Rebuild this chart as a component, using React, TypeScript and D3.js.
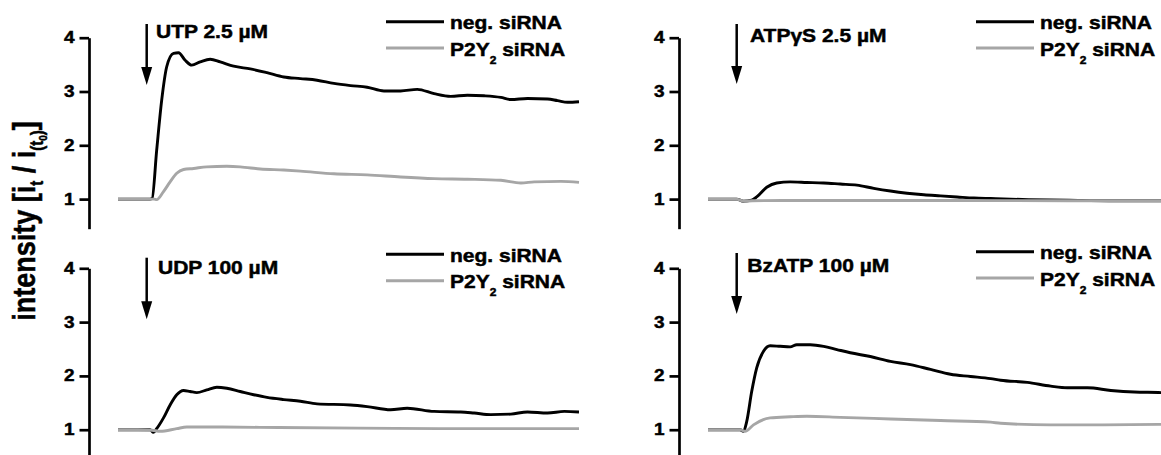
import React, { useEffect, useRef } from 'react';
import * as d3 from 'd3';

const W = 1161;
const H = 455;
const FONT = "'Liberation Sans', Arial, Helvetica, sans-serif";

// time (arbitrary units, 0..230) vs intensity ratio
const utpNeg: [number, number][] = [[0,1.0],[8,1.0],[16,1.0],[17,1.01],[19.3,1.91],[21.8,2.84],[24.3,3.46],[27.7,3.71],[30.2,3.72],[33.5,3.58],[36.8,3.49],[41,3.55],[46,3.6],[51,3.55],[57.7,3.47],[66,3.42],[74.3,3.35],[82.7,3.27],[91,3.24],[99.3,3.21],[107.7,3.15],[116,3.11],[124.3,3.08],[132.7,3.01],[141,3.01],[149.3,3.04],[157.7,2.96],[166,2.91],[174.3,2.93],[182.7,2.92],[191,2.89],[196,2.85],[204.3,2.87],[214.3,2.86],[219.3,2.83],[224.3,2.8],[230,2.81]];
const utpP2y2: [number, number][] = [[0,1.0],[10,1.0],[18,1.0],[19.3,0.99],[22.7,1.14],[26,1.32],[29.3,1.48],[32.7,1.55],[37.7,1.57],[44.3,1.6],[54.3,1.61],[61,1.6],[71,1.56],[82.7,1.54],[91,1.52],[107.7,1.47],[124.3,1.45],[141,1.41],[157.7,1.38],[174.3,1.37],[191,1.35],[201,1.3],[207.7,1.32],[221,1.33],[230,1.31]];

const atpNeg: [number, number][] = [[0,1.0],[8,1.0],[14.3,1.0],[17.7,0.96],[21.8,0.98],[24.3,1.04],[29.3,1.22],[34.3,1.3],[41,1.32],[49.3,1.31],[57.7,1.3],[66,1.28],[74.3,1.26],[82.7,1.2],[91,1.15],[99.3,1.11],[107.7,1.08],[116,1.06],[124.3,1.04],[132.7,1.02],[141,1.01],[160,0.99],[180,0.98],[200,0.97],[230,0.97]];
const atpP2y2: [number, number][] = [[0,1.0],[8,1.0],[14,1.0],[18,0.96],[22,0.97],[60,0.975],[120,0.975],[180,0.97],[230,0.97]];

const udpNeg: [number, number][] = [[0,1.0],[8,1.0],[16,1.0],[17.7,0.95],[19.3,1.02],[22.7,1.22],[26,1.46],[29.3,1.65],[32.7,1.73],[36,1.71],[39.3,1.69],[44.3,1.74],[49.3,1.79],[54.3,1.77],[61,1.71],[67.7,1.65],[74.3,1.6],[82.7,1.56],[91,1.53],[99.3,1.48],[116,1.46],[124.3,1.43],[136,1.37],[144.3,1.4],[157.7,1.34],[171,1.33],[177.7,1.31],[186,1.28],[196,1.29],[204.3,1.33],[214.3,1.31],[222.7,1.34],[230,1.33]];
const udpP2y2: [number, number][] = [[0,1.0],[10,1.0],[17,0.99],[21,0.97],[29.3,1.02],[34.3,1.05],[50,1.05],[80,1.04],[120,1.03],[160,1.02],[200,1.02],[230,1.02]];

const bzNeg: [number, number][] = [[0,1.0],[8,1.0],[16,1.0],[17.7,0.97],[19.3,1.15],[21.8,1.71],[24.3,2.15],[27.7,2.46],[31,2.56],[36,2.55],[41,2.54],[44.3,2.58],[51,2.58],[57.7,2.55],[64.3,2.49],[71,2.43],[81,2.36],[91,2.27],[101,2.21],[111,2.12],[121,2.03],[131,1.99],[141,1.95],[146,1.92],[159.3,1.88],[171,1.81],[179.3,1.78],[189.3,1.78],[201,1.73],[212.7,1.7],[226,1.69],[230,1.68]];
const bzP2y2: [number, number][] = [[0,1.0],[8,1.0],[16,1.0],[18.5,0.97],[22.7,1.09],[31,1.22],[41,1.24],[49.3,1.25],[66,1.23],[91,1.2],[116,1.17],[141,1.14],[146,1.12],[171,1.09],[196,1.09],[226,1.1],[230,1.1]];

const panelTitles = ['UTP 2.5 µM', 'ATPγS 2.5 µM', 'UDP 100 µM', 'BzATP 100 µM'];
const negSeries = [utpNeg, atpNeg, udpNeg, bzNeg];
const p2ySeries = [utpP2y2, atpP2y2, udpP2y2, bzP2y2];
const yTicks = [1, 2, 3, 4];
const xDomain = [0, 230];
const yDomain = [0.45, 4];

// layout (pixels)
const panels = [
  { ax: 89, y4: 37.7, arrow: [24, 85], title: [67, 38], legDy: -16 },
  { ax: 679, y4: 37.7, arrow: [24, 84], title: [71, 41.7], legDy: -16 },
  { ax: 89, y4: 268.3, arrow: [257.7, 319.3], title: [69, 274], legDy: -14 },
  { ax: 679, y4: 268.3, arrow: [253, 314], title: [68.3, 272.3], legDy: -16.6 },
];

const BLACK = '#000';
const GREY = '#a6a6a6';
const SX = 1.2;
const TEXT_STROKE = 0.45;

export default function App() {
  const ref = useRef<SVGSVGElement>(null);
  useEffect(() => {
    const svg = d3.select(ref.current);
    svg.selectAll('*').remove();

    const boldText = (sel: d3.Selection<SVGTextElement, unknown, null, undefined>, size: number) =>
      sel.attr('font-family', FONT).attr('font-weight', 'bold').attr('font-size', size)
        .attr('fill', BLACK).attr('stroke', BLACK).attr('stroke-width', TEXT_STROKE);

    panels.forEach((p, i) => {
      const g = svg.append('g');
      const x = d3.scaleLinear().domain(xDomain).range([p.ax + 29, p.ax + 490]);
      const y = d3.scaleLinear().domain(yDomain).range([p.y4 + 191, p.y4]);

      const axis = d3.axisLeft(y).tickValues(yTicks).tickSize(9.5).tickSizeOuter(0).tickPadding(5).tickFormat(d3.format('d'));
      const ag = g.append('g').attr('transform', `translate(${p.ax},0)`).call(axis);
      ag.select('.domain').attr('stroke', BLACK).attr('stroke-width', 2.7);
      ag.selectAll('.tick line').attr('stroke', BLACK).attr('stroke-width', 2.7);
      ag.selectAll<SVGTextElement, number>('.tick text')
        .attr('font-size', 15.8)
        .attr('font-weight', 'bold')
        .attr('font-family', FONT)
        .attr('fill', BLACK)
        .attr('stroke', BLACK)
        .attr('stroke-width', TEXT_STROKE)
        .each(function () {
          const t = d3.select(this);
          const tx = +t.attr('x');
          t.attr('x', 0).attr('transform', `translate(${tx},0) scale(${SX},1)`);
        });

      const line = d3.line<[number, number]>().x(d => x(d[0])).y(d => y(d[1])).curve(d3.curveMonotoneX);
      g.append('path').attr('d', line(negSeries[i])).attr('fill', 'none').attr('stroke', BLACK).attr('stroke-width', 2.9).attr('stroke-linejoin', 'round');
      g.append('path').attr('d', line(p2ySeries[i])).attr('fill', 'none').attr('stroke', GREY).attr('stroke-width', 2.9).attr('stroke-linejoin', 'round');

      // arrow
      const axx = p.ax + 57.7;
      g.append('line').attr('x1', axx).attr('x2', axx).attr('y1', p.arrow[0]).attr('y2', p.arrow[1] - 16).attr('stroke', BLACK).attr('stroke-width', 2.5);
      g.append('path')
        .attr('d', `M${axx - 5.5},${p.arrow[1] - 18}L${axx + 5.5},${p.arrow[1] - 18}L${axx},${p.arrow[1]}Z`)
        .attr('fill', BLACK);

      // title
      boldText(g.append('g').attr('transform', `translate(${p.ax + p.title[0]},${p.title[1]}) scale(${SX},1)`)
        .append('text'), 17.5).text(panelTitles[i]);

      // legend
      const ly1 = p.y4 + p.legDy;
      const ly2 = ly1 + 26.4;
      g.append('line').attr('x1', p.ax + 297).attr('x2', p.ax + 355).attr('y1', ly1).attr('y2', ly1).attr('stroke', BLACK).attr('stroke-width', 3);
      g.append('line').attr('x1', p.ax + 297).attr('x2', p.ax + 355).attr('y1', ly2).attr('y2', ly2).attr('stroke', GREY).attr('stroke-width', 3);
      boldText(g.append('g').attr('transform', `translate(${p.ax + 361},${ly1 + 7.6}) scale(${SX},1)`)
        .append('text'), 17.5).text('neg. siRNA');
      const t2 = boldText(g.append('g').attr('transform', `translate(${p.ax + 361},${ly2 + 7.6}) scale(${SX},1)`)
        .append('text'), 17.5);
      t2.append('tspan').text('P2Y');
      t2.append('tspan').attr('font-size', 10).attr('dy', 8).text('2');
      t2.append('tspan').attr('dy', -8).text(' siRNA');
    });

    // y-axis title
    const tg = svg.append('g').attr('transform', `translate(35,221) rotate(-90) scale(1,1.17)`);
    const tt = boldText(tg.append('text'), 27).attr('text-anchor', 'middle');
    tt.append('tspan').text('intensity [i');
    tt.append('tspan').attr('font-size', 15).attr('dy', 7).text('t');
    tt.append('tspan').attr('dy', -7).text(' / i');
    tt.append('tspan').attr('font-size', 15).attr('dy', 7).text('(t');
    tt.append('tspan').attr('font-size', 10).attr('dy', 3).text('0');
    tt.append('tspan').attr('font-size', 15).attr('dy', -3).text(')');
    tt.append('tspan').attr('dy', -7).text(']');
  }, []);

  return (
    <svg
      ref={ref}
      width={W}
      height={H}
      viewBox={`0 0 ${W} ${H}`}
      style={{ position: 'absolute', left: 0, top: 0, display: 'block', background: '#fff' }}
    />
  );
}
